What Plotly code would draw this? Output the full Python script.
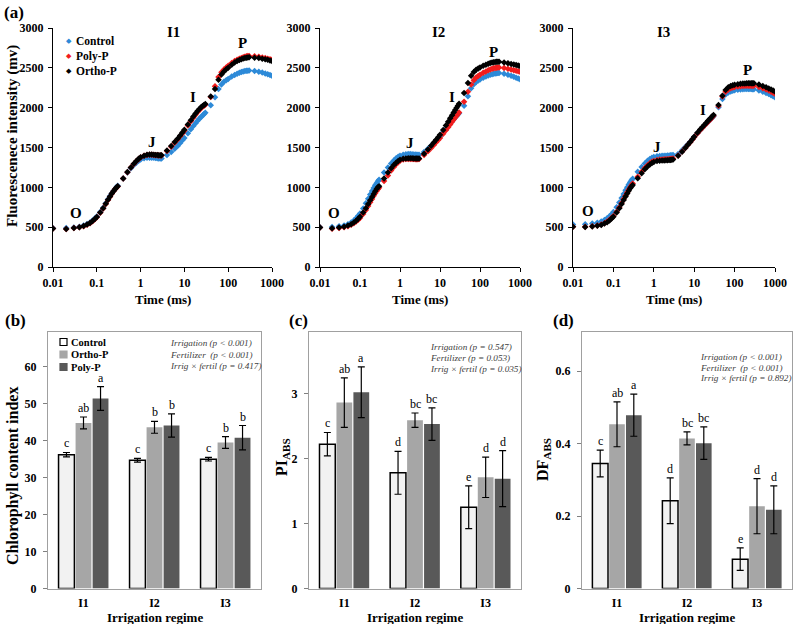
import math
import plotly.graph_objects as go

W, H = 793, 624
FONT = "Liberation Serif, Times New Roman, serif"

# ---------------- data: OJIP transients ----------------
time_ms = [0.01, 0.02, 0.03, 0.04, 0.05, 0.06, 0.07, 0.08, 0.09, 0.10,
           0.12, 0.14, 0.16, 0.18, 0.20, 0.22, 0.24, 0.26, 0.28, 0.30,
           0.4, 0.5, 0.6, 0.7, 0.8, 0.9, 1.0,
           1.2, 1.4, 1.6, 1.8, 2.0, 2.2, 2.4, 2.6, 2.8, 3.0,
           4, 5, 6, 7, 8, 9, 10,
           12, 14, 16, 18, 20, 22, 24, 26, 28, 30,
           40, 50, 60, 70, 80, 90, 100,
           120, 140, 160, 180, 200, 220, 240, 260, 280, 300,
           400, 500, 600, 700, 800, 900, 1000]

i1_control = [485, 488, 495, 505, 520, 540, 560, 585, 610, 635,
              690, 745, 800, 850, 890, 925, 955, 980, 1000, 1020,
              1110, 1185, 1240, 1280, 1310, 1335, 1350,
              1365, 1370, 1372, 1372, 1370, 1367, 1365, 1363, 1362, 1362,
              1405, 1445, 1485, 1520, 1555, 1590, 1620,
              1680, 1730, 1770, 1805, 1835, 1860, 1882, 1902, 1920, 1935,
              2030, 2130, 2235, 2290, 2325, 2345, 2360,
              2390, 2410, 2425, 2437, 2447, 2454, 2459, 2462, 2464, 2465,
              2460, 2450, 2440, 2430, 2420, 2410, 2400]
i1_polyp = [482, 478, 488, 498, 512, 530, 550, 575, 600, 625,
            680, 735, 790, 840, 882, 920, 950, 975, 995, 1012,
            1110, 1190, 1248, 1292, 1327, 1355, 1375,
            1395, 1405, 1408, 1408, 1406, 1404, 1402, 1400, 1400, 1400,
            1455, 1510, 1560, 1600, 1640, 1675, 1710,
            1775, 1830, 1875, 1912, 1945, 1970, 1992, 2010, 2025, 2038,
            2135, 2270, 2385, 2445, 2480, 2505, 2525,
            2560, 2585, 2602, 2615, 2625, 2633, 2640, 2644, 2647, 2650,
            2645, 2638, 2630, 2622, 2614, 2607, 2600]
i1_orthop = [482, 478, 490, 500, 515, 533, 553, 578, 603, 628,
             683, 738, 793, 843, 885, 922, 952, 977, 997, 1014,
             1112, 1192, 1250, 1295, 1330, 1358, 1378,
             1398, 1408, 1411, 1411, 1409, 1407, 1405, 1404, 1403, 1403,
             1462, 1518, 1568, 1610, 1650, 1687, 1722,
             1788, 1843, 1888, 1926, 1958, 1983, 2004, 2021, 2035, 2046,
             2140, 2235, 2350, 2415, 2455, 2482, 2502,
             2540, 2566, 2585, 2598, 2608, 2616, 2622, 2626, 2629, 2632,
             2628, 2622, 2615, 2607, 2600, 2593, 2586]

i2_control = [500, 502, 510, 520, 538, 560, 585, 612, 642, 672,
              735, 800, 858, 910, 955, 993, 1025, 1052, 1075, 1095,
              1185, 1250, 1300, 1338, 1366, 1385, 1398,
              1410, 1416, 1418, 1417, 1415, 1413, 1411, 1410, 1409, 1409,
              1445, 1485, 1522, 1555, 1585, 1612, 1638,
              1690, 1733, 1770, 1802, 1830, 1855, 1877, 1897, 1915, 1930,
              2025, 2142, 2245, 2295, 2322, 2340, 2352,
              2375, 2392, 2404, 2413, 2420, 2425, 2429, 2432, 2434, 2435,
              2425, 2412, 2400, 2388, 2377, 2367, 2357]
i2_polyp = [495, 480, 490, 500, 513, 530, 550, 570, 592, 615,
            665, 715, 765, 812, 855, 893, 927, 955, 977, 995,
            1078, 1150, 1210, 1255, 1290, 1315, 1333,
            1348, 1355, 1357, 1357, 1356, 1355, 1354, 1354, 1354, 1355,
            1405, 1453, 1495, 1532, 1565, 1594, 1620,
            1672, 1716, 1755, 1790, 1822, 1850, 1876, 1900, 1922, 1940,
            2075, 2200, 2290, 2345, 2378, 2398, 2413,
            2437, 2455, 2469, 2480, 2488, 2494, 2499, 2502, 2504, 2505,
            2497, 2487, 2478, 2470, 2463, 2457, 2450]
i2_orthop = [495, 485, 495, 505, 520, 538, 560, 582, 606, 632,
             685, 738, 790, 838, 880, 917, 950, 978, 1000, 1015,
             1112, 1185, 1240, 1280, 1310, 1332, 1346,
             1358, 1363, 1365, 1365, 1364, 1363, 1362, 1362, 1362, 1363,
             1420, 1475, 1522, 1562, 1598, 1630, 1660,
             1720, 1775, 1823, 1866, 1905, 1940, 1972, 2000, 2025, 2048,
             2185, 2310, 2400, 2448, 2475, 2492, 2505,
             2525, 2540, 2552, 2560, 2566, 2570, 2573, 2575, 2576, 2577,
             2568, 2558, 2549, 2541, 2534, 2528, 2522]

i3_control = [535, 537, 545, 555, 570, 590, 612, 637, 663, 690,
              750, 810, 866, 917, 962, 1000, 1035, 1063, 1088, 1108,
              1195, 1255, 1300, 1333, 1355, 1370, 1380,
              1390, 1394, 1396, 1397, 1398, 1399, 1400, 1402, 1404, 1406,
              1418, 1465, 1505, 1540, 1572, 1605, 1635,
              1680, 1717, 1748, 1775, 1798, 1820, 1840, 1858, 1875, 1892,
              2005, 2110, 2165, 2190, 2203, 2212, 2218,
              2225, 2229, 2232, 2233, 2234, 2234, 2234, 2233, 2232, 2231,
              2215, 2200, 2185, 2170, 2155, 2142, 2130]
i3_polyp = [505, 505, 510, 520, 533, 550, 570, 592, 615, 640,
            693, 748, 802, 852, 898, 937, 972, 1002, 1027, 1047,
            1133, 1197, 1243, 1278, 1303, 1320, 1332,
            1343, 1348, 1350, 1351, 1352, 1353, 1355, 1357, 1359, 1362,
            1400, 1450, 1495, 1533, 1567, 1600, 1630,
            1677, 1715, 1747, 1775, 1800, 1822, 1843, 1862, 1880, 1897,
            2020, 2140, 2200, 2228, 2243, 2252, 2258,
            2265, 2269, 2272, 2274, 2275, 2276, 2276, 2276, 2275, 2274,
            2258, 2243, 2229, 2215, 2200, 2187, 2175]
i3_orthop = [505, 503, 508, 517, 528, 545, 563, 585, 608, 632,
             683, 737, 790, 840, 885, 923, 958, 987, 1010, 1030,
             1113, 1178, 1226, 1262, 1288, 1306, 1318,
             1330, 1335, 1337, 1338, 1339, 1340, 1342, 1344, 1347, 1350,
             1395, 1447, 1494, 1534, 1570, 1604, 1635,
             1685, 1725, 1758, 1787, 1812, 1835, 1855, 1874, 1892, 1908,
             2035, 2150, 2222, 2255, 2272, 2282, 2288,
             2295, 2299, 2302, 2304, 2306, 2307, 2308, 2308, 2308, 2307,
             2290, 2273, 2257, 2242, 2228, 2215, 2203]

time_ticks = [0.01, 0.1, 1, 10, 100, 1000]
time_tick_text = ["0.01", "0.1", "1", "10", "100", "1000"]
fluo_ticks = [0, 500, 1000, 1500, 2000, 2500, 3000]

# ---------------- data: bar panels ----------------
regimes = ["I1", "I2", "I3"]
treatments = ["Control", "Ortho-P", "Poly-P"]

cci_mean = {"Control": [36.2, 34.7, 35.0], "Ortho-P": [44.8, 43.6, 39.5], "Poly-P": [51.4, 44.1, 40.8]}
cci_err = {"Control": [0.6, 0.5, 0.5], "Ortho-P": [1.6, 1.6, 1.6], "Poly-P": [3.2, 3.15, 3.3]}
cci_letters = {"Control": ["c", "c", "c"], "Ortho-P": ["ab", "b", "b"], "Poly-P": ["a", "b", "b"]}

pi_mean = {"Control": [2.22, 1.78, 1.25], "Ortho-P": [2.86, 2.59, 1.71], "Poly-P": [3.02, 2.53, 1.69]}
pi_err = {"Control": [0.18, 0.33, 0.33], "Ortho-P": [0.38, 0.11, 0.31], "Poly-P": [0.39, 0.25, 0.43]}
pi_letters = {"Control": ["c", "d", "e"], "Ortho-P": ["ab", "bc", "d"], "Poly-P": ["a", "bc", "d"]}

df_mean = {"Control": [0.345, 0.242, 0.081], "Ortho-P": [0.453, 0.414, 0.227], "Poly-P": [0.478, 0.401, 0.217]}
df_err = {"Control": [0.037, 0.063, 0.031], "Ortho-P": [0.062, 0.018, 0.076], "Poly-P": [0.058, 0.045, 0.066]}
df_letters = {"Control": ["c", "d", "e"], "Ortho-P": ["ab", "bc", "d"], "Poly-P": ["a", "bc", "d"]}

cci_stats = ["Irrigation (p < 0.001)", "Fertilizer  (p < 0.001)", "Irrig × fertil (p = 0.417)"]
pi_stats = ["Irrigation (p = 0.547)", "Fertilizer (p = 0.053)", "Irrig × fertil (p = 0.035)"]
df_stats = ["Irrigation (p < 0.001)", "Fertilizer  (p < 0.001)", "Irrig × fertil (p = 0.892)"]

cci_ticks = [0, 10, 20, 30, 40, 50, 60]
pi_ticks = [0, 1, 2, 3]
df_ticks = [0, 0.2, 0.4, 0.6]
df_tick_text = ["0", "0.2", "0.4", "0.6"]

# ---------------- styling ----------------
curve_colors = {"Control": "#2D8AD8", "Poly-P": "#F21D1D", "Ortho-P": "#000000"}
bar_colors = {"Control": "#F2F2F2", "Ortho-P": "#A6A6A6", "Poly-P": "#595959"}


def px(x):
    return x / W


def py(y):
    return 1 - y / H


def paper_text(text, x, y, size, xanchor="center", angle=0, **fontkw):
    return dict(text=text, x=px(x), y=py(y), xref="paper", yref="paper",
                xanchor=xanchor, yanchor="middle", textangle=angle, showarrow=False,
                font=dict(size=size, family=FONT, color=fontkw.pop("color", "black"), **fontkw))


fig = go.Figure()

top_panels = [
    ("I1", {"Control": i1_control, "Poly-P": i1_polyp, "Ortho-P": i1_orthop}, (53, 272)),
    ("I2", {"Control": i2_control, "Poly-P": i2_polyp, "Ortho-P": i2_orthop}, (320, 520)),
    ("I3", {"Control": i3_control, "Poly-P": i3_polyp, "Ortho-P": i3_orthop}, (573, 775)),
]
top_y = (267, 28)

layout = dict(
    template="none",
    width=W, height=H, margin=dict(l=0, r=0, t=0, b=0, pad=0, autoexpand=False),
    paper_bgcolor="white", plot_bgcolor="white", showlegend=False,
    font=dict(family=FONT, color="black", size=12),
    barmode="group", bargap=0.28, bargroupgap=0.07,
)

annotations = []
shapes = []

for k, (name, series, (x0, x1)) in enumerate(top_panels, start=1):
    sfx = "" if k == 1 else str(k)
    for trt in ["Control", "Poly-P", "Ortho-P"]:
        fig.add_trace(go.Scatter(
            x=time_ms, y=series[trt], mode="markers", name=trt,
            marker=dict(symbol="diamond", size=5, color=curve_colors[trt], line=dict(width=0)),
            xaxis="x" + sfx, yaxis="y" + sfx,
        ))
    layout["xaxis" + sfx] = dict(
        domain=[px(x0), px(x1)], anchor="y" + sfx, type="log", range=[-2, 3],
        tickvals=time_ticks, ticktext=time_tick_text, showline=True, linecolor="black",
        linewidth=1, ticks="outside", ticklen=4, tickcolor="black", showgrid=False,
        zeroline=False, tickfont=dict(size=12, weight="bold"), ticklabelstandoff=1,
        automargin=False,
    )
    layout["yaxis" + sfx] = dict(
        domain=[py(top_y[0]), py(top_y[1])], anchor="x" + sfx, range=[0, 3000],
        tickvals=fluo_ticks, showline=True, linecolor="black", linewidth=1,
        ticks="outside", ticklen=4, tickcolor="black", showgrid=False, zeroline=False,
        tickfont=dict(size=12, weight="bold"), ticklabelstandoff=2, automargin=False,
    )
    annotations.append(paper_text("Time (ms)", (x0 + x1) / 2, 299, 13, weight="bold"))

# OJIP phase labels and panel titles (x in log10 units)
phase_labels = {
    1: [("O", -1.48, 675), ("J", 0.26, 1565), ("I", 1.20, 2135), ("P", 2.32, 2810), ("I1", 0.75, 2950)],
    2: [("O", -1.65, 678), ("J", 0.25, 1556), ("I", 1.30, 2135), ("P", 2.33, 2700), ("I2", 0.95, 2950)],
    3: [("O", -1.63, 703), ("J", 0.08, 1506), ("I", 1.22, 1970), ("P", 2.33, 2472), ("I3", 0.23, 2950)],
}
for k, items in phase_labels.items():
    sfx = "" if k == 1 else str(k)
    for txt, lx, ly in items:
        annotations.append(dict(text=txt, x=lx, y=ly, xref="x" + sfx, yref="y" + sfx,
                                xanchor="center", yanchor="middle", showarrow=False,
                                font=dict(size=15, weight="bold", family=FONT, color="black")))

# legend for top panel (I1)
for txt, yy in [("Control", 41), ("Poly-P", 56), ("Ortho-P", 71)]:
    annotations.append(dict(text="◆", x=px(69), y=py(yy), xref="paper", yref="paper",
                            xanchor="center", yanchor="middle", showarrow=False,
                            font=dict(size=7, color=curve_colors[txt], family="DejaVu Sans")))
    annotations.append(paper_text(txt, 74, yy, 11.5, xanchor="left", weight="bold"))

annotations.append(paper_text("Fluorescenece intensity (mv)", 12, 136, 15, angle=-90, weight="bold"))

# ---------------- bar panels ----------------
bot_y = (588.5, 332)
bar_panels = [
    (4, cci_mean, cci_err, cci_letters, (48, 261), [0, 69.4], cci_ticks, [str(v) for v in cci_ticks],
     "Chlorophyll content index", (13, 476), cci_stats, (168, [343, 354.5, 366])),
    (5, pi_mean, pi_err, pi_letters, (309, 521), [0, 3.946], pi_ticks, [str(v) for v in pi_ticks],
     "PI<sub>ABS</sub>", (283, 457), pi_stats, (428, [347, 358, 368.5])),
    (6, df_mean, df_err, df_letters, (582, 792), [0, 0.7076], df_ticks, df_tick_text,
     "DF<sub>ABS</sub>", (543, 460), df_stats, (698, [357, 367.5, 378])),
]

for k, mean, err, letters, (x0, x1), yr, tv, tt, ytitle, (tx, ty), stats, (sx, sys) in bar_panels:
    sfx = str(k)
    for trt in treatments:
        fig.add_trace(go.Bar(
            x=regimes, y=mean[trt], name=trt, offsetgroup=trt,
            marker=dict(color=bar_colors[trt],
                        line=dict(color="black" if trt == "Control" else bar_colors[trt],
                                  width=1.5 if trt == "Control" else 0)),
            error_y=dict(type="data", array=err[trt], visible=True, color="black",
                         thickness=1.2, width=3.5),
            xaxis="x" + sfx, yaxis="y" + sfx,
        ))
    layout["xaxis" + sfx] = dict(
        domain=[px(x0), px(x1)], anchor="y" + sfx, type="category",
        showline=True, mirror=True, linecolor="#A0A0A0", linewidth=1, ticks="",
        showgrid=False, zeroline=False, tickfont=dict(size=12, weight="bold"),
        ticklabelstandoff=3, automargin=False,
    )
    layout["yaxis" + sfx] = dict(
        domain=[py(bot_y[0]), py(bot_y[1])], anchor="x" + sfx, range=yr,
        tickvals=tv, ticktext=tt, showline=True, mirror=True, linecolor="#A0A0A0",
        linewidth=1, ticks="outside", ticklen=4, tickcolor="#808080", showgrid=False,
        zeroline=False, tickfont=dict(size=12, weight="bold"), ticklabelstandoff=4,
        automargin=False,
    )
    # significance letters above error bars
    cat_w = (x1 - x0) / len(regimes)
    slot = cat_w * (1 - layout["bargap"]) / len(treatments)
    for j, trt in enumerate(treatments):
        for i, reg in enumerate(regimes):
            annotations.append(dict(
                text=letters[trt][i], x=reg, y=mean[trt][i] + err[trt][i],
                xref="x" + sfx, yref="y" + sfx, xanchor="center", yanchor="bottom", yshift=0,
                xshift=(j - 1) * slot, showarrow=False,
                font=dict(size=12, family=FONT, color="black")))
    annotations.append(paper_text(ytitle, tx, ty, 16, angle=-90, weight="bold"))
    annotations.append(paper_text("Irrigation regime", (x0 + x1) / 2, 617, 13, weight="bold"))
    for s, yy in zip(stats, sys):
        annotations.append(paper_text(s, sx, yy, 9.2, xanchor="left", style="italic", color="#404040"))

# legend for panel (b)
for trt, yy in zip(treatments, [342, 354.5, 367]):
    s = 3.5
    shapes.append(dict(type="rect", xref="paper", yref="paper",
                       x0=px(63.5 - s), x1=px(63.5 + s), y0=py(yy + s), y1=py(yy - s),
                       fillcolor="white" if trt == "Control" else bar_colors[trt],
                       line=dict(color="black" if trt == "Control" else bar_colors[trt], width=1.2)))
    annotations.append(paper_text(trt, 68.5, yy, 10.5, xanchor="left", weight="bold"))

# panel letters
for txt, xx, yy in [("(a)", 14, 12), ("(b)", 15, 321), ("(c)", 298, 321), ("(d)", 563, 321)]:
    annotations.append(paper_text(txt, xx, yy, 17, weight="bold"))

layout["annotations"] = annotations
layout["shapes"] = shapes
fig.update_layout(**layout)
fig.write_html(
    "out.html",
    config={"displayModeBar": False},
    post_script="document.body.style.margin='0';document.body.style.overflow='hidden';",
)
